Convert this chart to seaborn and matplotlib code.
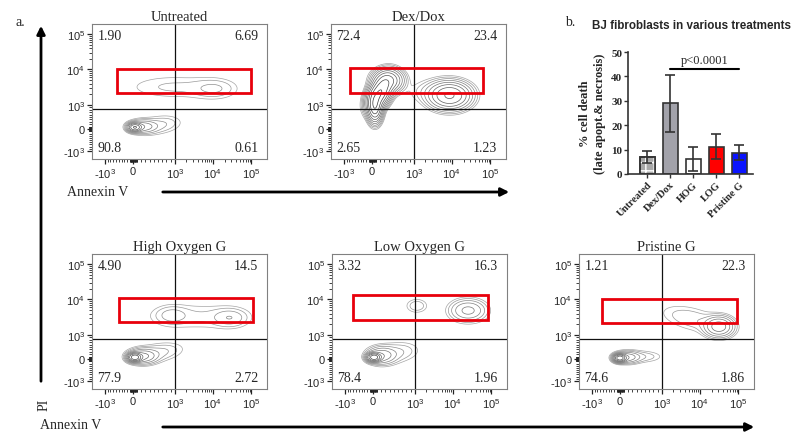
import numpy as np
import pandas as pd
import seaborn as sns
import matplotlib.pyplot as plt
from matplotlib.patches import Rectangle, FancyArrowPatch

sns.set_theme(style='white')
plt.rcParams['font.family'] = ['Liberation Serif', 'DejaVu Serif']
plt.rcParams['mathtext.fontset'] = 'custom'
plt.rcParams['mathtext.rm'] = 'Liberation Sans'
plt.rcParams['mathtext.it'] = 'Liberation Sans:italic'
plt.rcParams['mathtext.bf'] = 'Liberation Sans:bold'
plt.rcParams['hatch.linewidth'] = 1.0

W, H = 794, 435

# ---- flow panels ----
panel_titles = ['Untreated', 'Dex/Dox', 'High Oxygen G', 'Low Oxygen G', 'Pristine G']
quad_ul = ['1.90', '72.4', '4.90', '3.32', '1.21']
quad_ur = ['6.69', '23.4', '14.5', '16.3', '22.3']
quad_ll = ['90.8', '2.65', '77.9', '78.4', '74.6']
quad_lr = ['0.61', '1.23', '2.72', '1.96', '1.86']

# axis scale (biexponential display units)
x_tick_pos = [-0.72, 0, 1.08, 2.05, 3.05]
y_tick_pos = [-0.61, 0, 0.67, 1.67, 2.64]
x_tick_lab = ['-$10^3$', '0', '$10^3$', '$10^4$', '$10^5$']
y_tick_lab = ['-$10^3$', '0', '$10^3$', '$10^4$', '$10^5$']
x_quad = 1.08
y_quad = 0.56

# density blobs: x, y, sx, sy, weight, angle
untreated_blobs = [(0.05, 0.05, 0.09, 0.06, 1.0, 0),
                   (0.25, 0.07, 0.20, 0.10, 0.15, 0),
                   (0.70, 0.12, 0.33, 0.15, 0.035, 8),
                   (1.05, 1.17, 0.80, 0.22, 0.02, 0),
                   (2.10, 1.12, 0.35, 0.17, 0.03, 0)]
dexdox_blobs = [(0.08, 0.62, 0.09, 0.20, 1.5, 0),
                (0.20, 1.00, 0.13, 0.24, 1.8, -25),
                (0.42, 1.35, 0.19, 0.16, 0.6, 0),
                (2.00, 0.93, 0.27, 0.19, 0.6, 0),
                (1.65, 1.05, 0.42, 0.20, 0.03, 0)]
hog_blobs = [(0.05, 0.05, 0.09, 0.06, 1.5, 0),
             (0.25, 0.08, 0.20, 0.11, 0.2, 0),
             (0.65, 0.18, 0.38, 0.15, 0.04, 10),
             (1.00, 1.22, 0.25, 0.15, 0.035, 0),
             (2.50, 1.15, 0.26, 0.15, 0.045, 0),
             (1.70, 1.18, 0.85, 0.24, 0.02, 0)]
log_blobs = [(0.03, 0.05, 0.09, 0.06, 1.5, 0),
             (0.22, 0.10, 0.20, 0.13, 0.15, 0),
             (0.60, 0.18, 0.35, 0.17, 0.035, 8),
             (1.13, 1.48, 0.17, 0.12, 0.03, 0),
             (2.45, 1.35, 0.26, 0.17, 0.12, 0)]
pristine_blobs = [(0.00, 0.03, 0.08, 0.055, 1.5, 0),
                  (0.18, 0.05, 0.18, 0.09, 0.15, 0),
                  (0.55, 0.07, 0.32, 0.10, 0.03, 0),
                  (2.55, 0.90, 0.20, 0.15, 0.25, 0),
                  (1.85, 1.12, 0.50, 0.20, 0.03, -15)]
panel_blobs = [untreated_blobs, dexdox_blobs, hog_blobs, log_blobs, pristine_blobs]

# red gates: x0, x1, y0, y1
gate_boxes = [(-0.41, 3.05, 1.00, 1.67),
              (-0.55, 2.85, 1.00, 1.69),
              (-0.36, 3.10, 1.03, 1.69),
              (-0.50, 2.95, 1.08, 1.78),
              (-0.46, 3.00, 1.00, 1.67)]

# ---- bar chart ----
bar_labels = ['Untreated', 'Dex/Dox', 'HOG', 'LOG', 'Pristine G']
bar_means = [7.0, 28.9, 6.2, 11.2, 8.8]
bar_sd = [2.3, 11.5, 4.9, 5.0, 3.1]
bar_colors = ['#a8a8a8', '#a2a2aa', '#ffffff', '#ff0000', '#0a14ff']


def bpos(v, p_neg, p_pos, decade):
    a = abs(v)
    if a < 1000:
        p = p_pos if v > 0 else p_neg
        return np.sign(v) * p * a / 1000
    return np.sign(v) * (p_pos + np.log10(a / 1000) * decade)


lin_vals = [k * 100 for k in range(1, 10)] + [k * 10 for k in range(1, 10)]
log_vals = [k * 10 ** d for d in (3, 4) for k in range(2, 10)]
x_minor = [bpos(v, 0.72, 1.08, 0.985) for v in lin_vals + log_vals] + \
          [bpos(-v, 0.72, 1.08, 0.985) for v in lin_vals]
y_minor = [bpos(v, 0.61, 0.67, 0.985) for v in lin_vals + log_vals] + \
          [bpos(-v, 0.61, 0.67, 0.985) for v in lin_vals]

xlim = (-1.05, 3.45)
ylim = (-0.83, 2.92)
gx = np.linspace(*xlim, 400)
gy = np.linspace(*ylim, 340)
GX, GY = np.meshgrid(gx, gy)
levels = np.geomspace(0.01, 10, 13)
line_cols = plt.cm.Greys(np.linspace(0.45, 0.95, len(levels)))

fig = plt.figure(figsize=(W / 100, H / 100), dpi=100)


def fx(px):
    return px / W


def fy(py):
    return 1 - py / H


panel_rects = [(92, 25), (331, 25), (92, 255), (332, 255), (579, 255)]
for i, (left, top) in enumerate(panel_rects):
    ax = fig.add_axes([fx(left), fy(top + 135), 175 / W, 135 / H])
    Z = np.zeros_like(GX)
    for cx, cy, sx, sy, w, ang in panel_blobs[i]:
        t = np.deg2rad(ang)
        dx, dy = GX - cx, GY - cy
        u = dx * np.cos(t) + dy * np.sin(t)
        v = -dx * np.sin(t) + dy * np.cos(t)
        Z += w * np.exp(-0.5 * ((u / sx) ** 2 + (v / sy) ** 2))
    ax.contour(GX, GY, Z, levels=levels, colors=line_cols, linewidths=0.5)
    ax.axvline(x_quad, color='#111111', lw=0.9)
    ax.axhline(y_quad, color='#111111', lw=0.9)
    x0, x1, y0, y1 = gate_boxes[i]
    ax.add_patch(Rectangle((x0, y0), x1 - x0, y1 - y0, fill=False, ec='#e8000b', lw=2, zorder=5))
    ax.set_xlim(*xlim)
    ax.set_ylim(*ylim)
    ax.set_xticks(x_tick_pos, labels=x_tick_lab)
    ax.set_yticks(y_tick_pos, labels=y_tick_lab)
    ax.set_xticks(x_minor, minor=True)
    ax.set_yticks(y_minor, minor=True)
    ax.tick_params(which='major', length=3.5, width=0.9, color='#222222', labelsize=8, pad=1.5,
                   bottom=True, left=True, direction='out')
    ax.tick_params(which='minor', length=2.5, width=0.6, color='#222222', bottom=True, left=True,
                   direction='out')
    for lab in ax.get_xticklabels() + ax.get_yticklabels():
        lab.set_family('Liberation Sans')
    for s in ax.spines.values():
        s.set_color('#808080')
        s.set_linewidth(0.8)
    ax.set_title(panel_titles[i], fontsize=10.5, pad=3)
    kw = dict(transform=ax.transAxes, fontsize=10)
    ax.text(0.03, 0.96, quad_ul[i], ha='left', va='top', **kw)
    ax.text(0.95, 0.96, quad_ur[i], ha='right', va='top', **kw)
    ax.text(0.03, 0.04, quad_ll[i], ha='left', va='bottom', **kw)
    ax.text(0.95, 0.04, quad_lr[i], ha='right', va='bottom', **kw)

# big axis arrows and labels
def arrow(p0, p1):
    fig.patches.append(FancyArrowPatch((fx(p0[0]), fy(p0[1])), (fx(p1[0]), fy(p1[1])),
                                       transform=fig.transFigure, arrowstyle='-|>',
                                       mutation_scale=12, lw=2, color='black'))


arrow((41, 385), (41, 24))
arrow((160, 193), (512, 193))
arrow((160, 428), (757, 428))
fig.text(fx(67), fy(193), 'Annexin V', fontsize=10, va='center')
fig.text(fx(40), fy(426), 'Annexin V', fontsize=10, va='center')
fig.text(fx(44), fy(405), 'PI', fontsize=10, rotation=90, ha='center', va='center')
fig.text(fx(16), fy(22), 'a.', fontsize=10, va='center')
fig.text(fx(565), fy(22), 'b.', fontsize=10, va='center')
fig.text(fx(592), fy(26), 'BJ fibroblasts in various treatments', fontsize=8.4,
         fontweight='bold', family='Liberation Sans', va='center')

# bar chart
axb = fig.add_axes([fx(628), fy(175), 125 / W, 122 / H])
df = pd.DataFrame({'treatment': bar_labels, 'death': bar_means})
sns.barplot(data=df, x='treatment', y='death', hue='treatment', palette=bar_colors, legend=False,
            width=0.65, saturation=1, edgecolor='#333333', linewidth=1.2, ax=axb)
p0 = axb.patches[0]
axb.add_patch(Rectangle(p0.get_xy(), p0.get_width(), p0.get_height(), fill=False,
                        hatch='++', ec='white', lw=0, zorder=p0.get_zorder() + 0.1))
axb.add_patch(Rectangle(p0.get_xy(), p0.get_width(), p0.get_height(), fill=False,
                        ec='#333333', lw=1.2, zorder=p0.get_zorder() + 0.2))
axb.errorbar(range(len(bar_labels)), bar_means, yerr=bar_sd, fmt='none', ecolor='#333333',
             elinewidth=1.2, capsize=3.5, capthick=1.2, zorder=6)
axb.plot([1, 4], [43, 43], color='black', lw=1.5)
axb.text(2.5, 44.3, 'p<0.0001', ha='center', va='bottom', fontsize=9)
axb.set_ylim(0, 50)
axb.set_xlim(-0.83, 4.6)
axb.set_yticks([0, 10, 20, 30, 40, 50])
axb.set_xlabel('')
axb.set_ylabel('% cell death\n(late apopt.& necrosis)', fontsize=9, fontweight='bold', labelpad=4,
               linespacing=1.3)
axb.tick_params(axis='y', length=3, width=1, color='#333333', labelsize=8, pad=1, left=True)
axb.tick_params(axis='x', length=3, width=1, color='#333333', labelsize=7.5, pad=1, bottom=True)
for lab in axb.get_yticklabels():
    lab.set_fontweight('bold')
for lab in axb.get_xticklabels():
    lab.set_fontweight('bold')
    lab.set_rotation(45)
    lab.set_ha('right')
    lab.set_rotation_mode('anchor')
sns.despine(ax=axb)
for s in ('left', 'bottom'):
    axb.spines[s].set_color('#333333')
    axb.spines[s].set_linewidth(1.2)

fig.savefig('out.png', dpi=100)
